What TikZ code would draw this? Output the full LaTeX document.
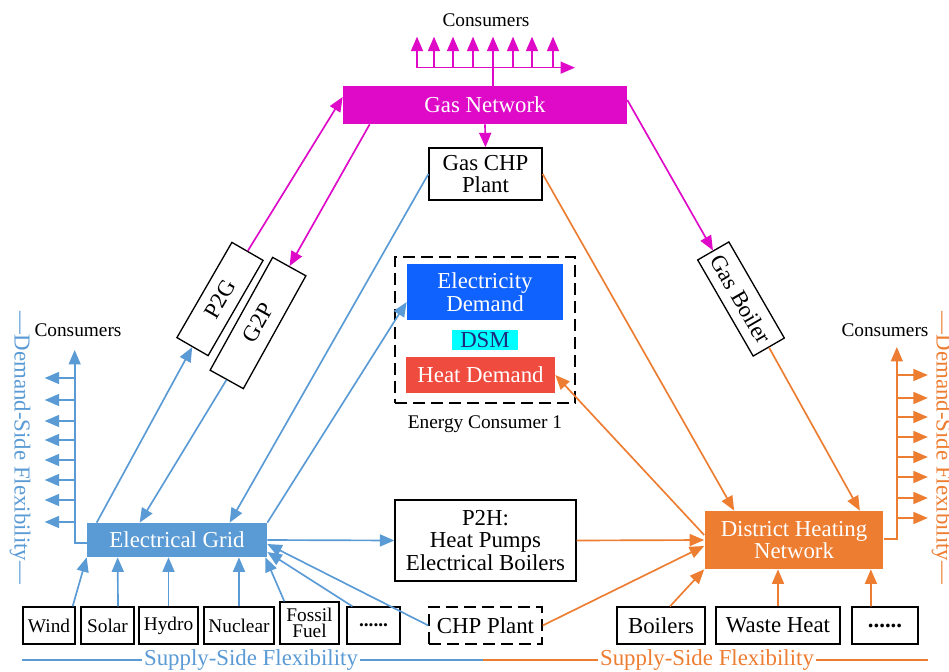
\documentclass[tikz,border=0pt]{standalone}
\usepackage{fontspec}
\setmainfont{Liberation Serif}
\usetikzlibrary{arrows.meta, positioning, calc}
\definecolor{celec}{HTML}{5B9BD5}
\definecolor{cheat}{HTML}{ED7D31}
\definecolor{cgas}{HTML}{DE0AC8}
\definecolor{cedem}{HTML}{0F62FE}
\definecolor{chdem}{HTML}{EF4B3F}
\definecolor{cdsm}{HTML}{00FFFF}
\definecolor{cnavy}{HTML}{1F2A7A}
\tikzset{
  unit/.style={draw, line width=0.75pt, align=center, inner sep=1pt},
  srcbox/.style={unit, font=\fontsize{11}{12.5}\selectfont, minimum height=0.74cm},
  hub/.style={fill=#1, text=white, align=center, inner sep=1pt},
  flow/.style={-{Triangle[length=2.9mm, width=2.4mm]}, draw=#1, line width=0.95pt},
  link/.style={draw=#1, line width=0.95pt},
  sidelabel/.style={font=\fontsize{13}{15}\selectfont, text=#1, fill=white, inner sep=1pt},
}

\begin{document}
\begin{tikzpicture}[x=0.02cm, y=-0.02cm,
    every node/.append style={font=\fontsize{13}{15}\selectfont},
  ]
  \useasboundingbox (0,0) rectangle (949,672);

  % gas side
  \node[hub=cgas, minimum width=5.68cm, minimum height=0.76cm] (gasnet) at (485,105) {Gas Network};
  \node[unit, minimum width=2.26cm, minimum height=1.04cm] (gaschp) at (485.5,174) {Gas CHP\\[-2pt]Plant};
  \node[unit, rotate=60, minimum width=2.2cm, minimum height=0.72cm] (p2g) at (220,299) {P2G};
  \node[unit, rotate=61, minimum width=2.58cm, minimum height=0.76cm] (g2p) at (258,323) {G2P};
  \node[unit, rotate=-60, minimum width=2.22cm, minimum height=0.72cm] (gasboil) at (741,299) {Gas Boiler};

  % energy consumer
  \node[draw, dashed, dash pattern=on 2.4mm off 1.2mm, line width=0.8pt, minimum width=3.6cm, minimum height=2.92cm] (cons) at (485,330) {};
  \node[hub=cedem, minimum width=3.12cm, minimum height=1.12cm] (edem) at (485,292) {Electricity\\[-2pt]Demand};
  \node[fill=cdsm, text=cnavy, minimum width=1.32cm, minimum height=0.4cm, inner sep=0pt] (dsm) at (485,340) {DSM};
  \node[hub=chdem, minimum width=2.98cm, minimum height=0.72cm] (hdem) at (480.5,375) {Heat Demand};
  \node[font=\fontsize{11}{13}\selectfont] (conslabel) at (485,424) {Energy Consumer 1};

  % networks
  \node[hub=celec, minimum width=3.6cm, minimum height=0.68cm] (grid) at (177,540) {Electrical Grid};
  \node[hub=cheat, minimum width=3.58cm, minimum height=1.16cm] (dhn) at (794,540) {District Heating\\[-2pt]Network};
  \node[unit, minimum width=3.62cm, minimum height=1.62cm] (p2h) at (485.5,540.5) {P2H:\\[-2pt]Heat Pumps\\[-2pt]Electrical Boilers};

  % sources
  \node[srcbox, minimum width=1.04cm] (wind) at (49,625.5) {Wind};
  \node[srcbox, minimum width=1.06cm] (solar) at (107.5,625.5) {Solar};
  \node[srcbox, minimum width=1.18cm] (hydro) at (168.5,625.5) {Hydro};
  \node[srcbox, minimum width=1.4cm] (nuclear) at (239,625.5) {Nuclear};
  \node[srcbox, minimum width=1.18cm, minimum height=0.84cm] (fossil) at (309.5,623) {Fossil\\[-3pt]Fuel};
  \node[srcbox, minimum width=1.06cm] (dotsE) at (373.5,625.5) {\textbf{......}};
  \node[unit, dashed, dash pattern=on 2.4mm off 1.2mm, minimum width=2.26cm, minimum height=0.74cm] (chp) at (485.5,625.5) {CHP Plant};
  \node[unit, minimum width=1.76cm, minimum height=0.74cm] (boilers) at (661,625.5) {Boilers};
  \node[unit, minimum width=2.48cm, minimum height=0.74cm] (waste) at (778,625.5) {Waste Heat};
  \node[unit, minimum width=1.32cm, minimum height=0.74cm] (dotsH) at (885,625.5) {\textbf{......}};

  % gas connectors
  \draw[flow=cgas] (gasnet.south) -- (gaschp.north);
  \draw[flow=cgas] (p2g.east) -- ([yshift=0.16cm]gasnet.west);
  \draw[flow=cgas] ($(gasnet.south west)+(27,0)$) -- (g2p.east);
  \draw[flow=cgas] ([yshift=0.1cm]gasnet.east) -- (gasboil.west);
  \coordinate (gbus) at ($(gasnet.north)+(8,-18)$);
  \draw[link=cgas] ($(gasnet.north)+(8,0)$) -- (gbus);
  \draw[flow=cgas] ($(gbus)+(-76,0)$) -- ($(gbus)+(82,0)$);
  \foreach \dx in {-76,-59,-40,-20,0,20,39,60}
    \draw[flow=cgas] ($(gbus)+(\dx,0)$) -- ++(0,-31);
  \node[font=\fontsize{11}{13}\selectfont] (gascons) at (486,20) {Consumers};

  % electricity connectors
  \draw[flow=celec] ($(grid.north west)+(10,0)$) -- (p2g.west);
  \draw[flow=celec] (g2p.west) -- ($(grid.north west)+(53,0)$);
  \draw[flow=celec] (gaschp.west) -- ($(grid.north west)+(143,0)$);
  \draw[flow=celec] (grid.north east) -- ($(edem.west)+(0,10)$);
  \draw[flow=celec] (grid.east) -- (p2h.west);
  \draw[flow=celec] ($(wind.north east)+(-3,0)$) -- (grid.south west);
  \draw[flow=celec] ($(solar.north)+(10.5,0)$) -- ($(grid.south west)+(31,0)$);
  \draw[flow=celec] (hydro.north) -- (hydro.north |- grid.south);
  \draw[flow=celec] (nuclear.north) -- (nuclear.north |- grid.south);
  \draw[flow=celec] ($(fossil.north west)+(5,0)$) -- ($(grid.south east)+(-2,0)$);
  \draw[flow=celec] ($(dotsE.north west)+(6,0)$) -- ($(grid.east)+(0,12)$);
  \draw[flow=celec] (chp.west) -- ($(grid.east)+(0,4)$);
  \coordinate (ebus) at ($(grid.west)+(-12,3)$);
  \draw[flow=celec] ($(grid.west)+(0,3)$) -- (ebus) -- ++(0,-193);
  \foreach \y in {378,400,421,440,460,480,500,522}
    \draw[flow=celec] (ebus |- 0,\y) -- ++(-30,0);
  \node[font=\fontsize{11}{13}\selectfont] (elecons) at (78,330) {Consumers};

  % heat connectors
  \draw[flow=cheat] (gaschp.east) -- ($(dhn.north west)+(30,0)$);
  \draw[flow=cheat] (gasboil.east) -- ($(dhn.north east)+(-24,0)$);
  \draw[flow=cheat] ($(dhn.west)+(0,-5)$) -- (hdem.east);
  \draw[flow=cheat] (p2h.east) -- (dhn.west);
  \draw[flow=cheat] (chp.east) -- ($(dhn.west)+(0,6)$);
  \draw[flow=cheat] ($(boilers.north)+(9,0)$) -- (dhn.south west);
  \draw[flow=cheat] (waste.north) -- (waste.north |- dhn.south);
  \draw[flow=cheat] ($(dotsH.north)+(-14,0)$) -- ($(dhn.south east)+(-13,0)$);
  \coordinate (hbus) at ($(dhn.east)+(13,-1)$);
  \draw[flow=cheat] ($(dhn.east)+(0,-1)$) -- (hbus) -- ++(0,-192);
  \foreach \y in {375,398,417,437,457,477,498,518}
    \draw[flow=cheat] (hbus |- 0,\y) -- ++(31,0);
  \node[font=\fontsize{11}{13}\selectfont] (heatcons) at (885,330) {Consumers};

  % flexibility labels
  \draw[link=celec] (22,660) -- (483,660);
  \draw[link=cheat] (483,660) -- (928,660);
  \node[sidelabel=celec] (supE) at (251,660) {Supply-Side Flexibility};
  \node[sidelabel=cheat] (supH) at (707,660) {Supply-Side Flexibility};
  \node[sidelabel=celec, rotate=-90] (demE) at (20,448) {---Demand-Side Flexibility---};
  \node[sidelabel=cheat, rotate=-90] (demH) at (942,448) {---Demand-Side Flexibility---};
\end{tikzpicture}
\end{document}
